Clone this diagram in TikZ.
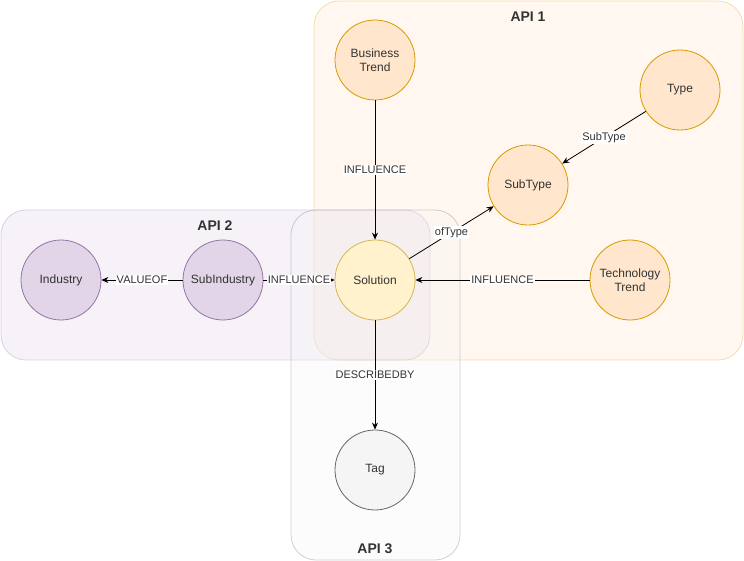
\documentclass[tikz,border=0pt]{standalone}
\usepackage{fontspec}
\setmainfont{Liberation Sans}
\usetikzlibrary{arrows.meta}
\definecolor{orfill}{HTML}{FFE6CC}
\definecolor{orline}{HTML}{D79B00}
\definecolor{yefill}{HTML}{FFF2CC}
\definecolor{yeline}{HTML}{D6B656}
\definecolor{pufill}{HTML}{E1D5E7}
\definecolor{puline}{HTML}{9673A6}
\definecolor{grfill}{HTML}{F5F5F5}
\definecolor{grline}{HTML}{666666}
\definecolor{txt}{HTML}{333333}
\tikzset{
  ent/.style={circle, draw, line width=0.8pt, minimum size=80pt, inner sep=0pt, align=center, font=\fontsize{12}{14}\selectfont, text=txt},
  orn/.style={ent, fill=orfill, draw=orline},
  yen/.style={ent, fill=yefill, draw=yeline},
  pun/.style={ent, fill=pufill, draw=puline},
  grn/.style={ent, fill=grfill, draw=grline},
  cont/.style={rounded corners=25pt, line width=0.8pt, fill opacity=0.3, draw opacity=0.3},
  ttl/.style={font=\bfseries\fontsize{14}{16}\selectfont, text=txt},
  rel/.style={draw=black, line width=0.8pt, -{Stealth[length=7pt,width=6pt]}},
  lbl/.style={fill=white, inner sep=1pt, font=\fontsize{11}{13}\selectfont, text=txt}
}
\begin{document}
\begin{tikzpicture}[x=1pt,y=-1pt]
\useasboundingbox (0,0) rectangle (744,561);
% containers
\draw[cont, fill=orfill, draw=orline] (314,1) rectangle (743,360);
\draw[cont, fill=pufill, draw=puline] (1,210) rectangle (430,360);
\draw[cont, fill=grfill, draw=grline] (291,210) rectangle (460,560);
\node[ttl] (t1) at (528,17) {API 1};
\node[ttl] (t2) at (215,226) {API 2};
\node[ttl] (t3) at (375,549) {API 3};
% nodes
\node[orn] (bt) at (375,60) {Business\\Trend};
\node[orn] (ty) at (680,90) {Type};
\node[orn] (st) at (528,185) {SubType};
\node[yen] (so) at (375,280) {Solution};
\node[orn] (tt) at (630,280) {Technology\\Trend};
\node[pun] (in) at (61,280) {Industry};
\node[pun] (si) at (223,280) {SubIndustry};
\node[grn] (tg) at (375,470) {Tag};
% edges
\draw[rel] (bt) -- node[lbl] {INFLUENCE} (so);
\draw[rel] (ty) -- node[lbl] {SubType} (st);
\draw[rel] (so) -- node[lbl] {ofType} (st);
\draw[rel] (tt) -- node[lbl] {INFLUENCE} (so);
\draw[rel] (si) -- node[lbl] {VALUEOF} (in);
\draw[rel] (si) -- node[lbl] {INFLUENCE} (so);
\draw[rel] (so) -- node[lbl] {DESCRIBEDBY} (tg);
\end{tikzpicture}
\end{document}
